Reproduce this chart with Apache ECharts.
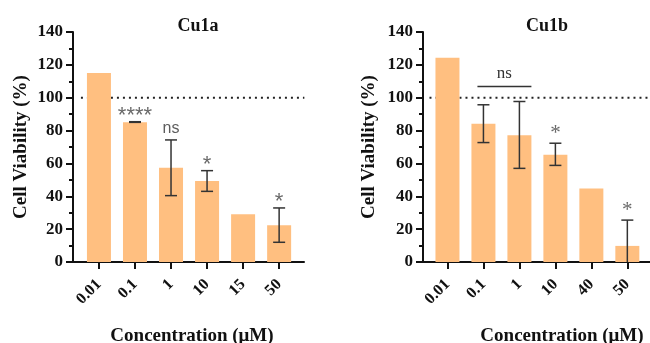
<!DOCTYPE html>
<html>
<head>
<meta charset="utf-8">
<script src="https://cdn.jsdelivr.net/npm/echarts@6/dist/echarts.min.js"></script>
<style>
  html, body { margin: 0; padding: 0; background: #fff; }
  #chart { width: 650px; height: 343px; }
</style>
</head>
<body>
<div id="chart"></div>
<script>
// Cell viability (%) per concentration, two complexes.
const catsA = ["0.01", "0.1", "1", "10", "15", "50"];
const meanA = [115, 85, 57.4, 49.3, 29, 22.3];
const errLoA = [null, 85, 40.4, 43, null, 12];
const errHiA = [null, 85.4, 74.3, 55.6, null, 32.9];
const sigA = ["", "****", "ns", "*", "", "*"];

const catsB = ["0.01", "0.1", "1", "10", "40", "50"];
const meanB = [124.3, 84.1, 77.2, 65.3, 44.8, 9.8];
const errLoB = [null, 72.7, 57, 58.8, null, -6];
const errHiB = [null, 95.7, 97.7, 72.3, null, 25.5];
const sigB = ["", "", "", "*", "", "*"];
// bracket over 0.1 and 1 with "ns"
const bracketB = { from: 1, to: 2, y: 106.8, text: "ns" };

const yTicks = { min: 0, max: 140, interval: 20 };
const refLine = 100;

const SERIF = "'Liberation Serif', 'Times New Roman', serif";
const SANS = "'Liberation Sans', Arial, sans-serif";
const BAR = "#FFBF80";
const INK = "#111";

function xAxisFor(grid, cats, min, max) {
  const idx = cats.map((_, i) => i);
  return {
    gridIndex: grid, type: "value", min, max,
    splitLine: { show: false },
    axisLine: { onZero: false, lineStyle: { color: INK, width: 2 } },
    axisTick: { customValues: idx, length: 7, lineStyle: { color: INK, width: 2 } },
    axisLabel: {
      customValues: idx, rotate: 45, margin: 20,
      formatter: (v) => cats[Math.round(v)],
      fontFamily: SERIF, fontWeight: "bold", fontSize: 16, color: INK,
    },
  };
}

function yAxisFor(grid, nameGap) {
  return {
    gridIndex: grid, type: "value", ...yTicks,
    name: "Cell Viability (%)", nameLocation: "middle", nameGap,
    nameTextStyle: { fontFamily: SERIF, fontWeight: "bold", fontSize: 19, color: INK },
    splitLine: { show: false },
    axisLine: { show: true, onZero: false, lineStyle: { color: INK, width: 2 } },
    axisTick: { length: 7, lineStyle: { color: INK, width: 2 } },
    minorTick: { show: true, splitNumber: 2, length: 4, lineStyle: { color: INK, width: 2 } },
    axisLabel: { margin: 10, fontFamily: SERIF, fontWeight: "bold", fontSize: 17, color: INK },
  };
}

function errorSeries(ax, lo, hi) {
  const data = [];
  lo.forEach((l, i) => { if (l != null) data.push([i, l, hi[i]]); });
  return {
    type: "custom", xAxisIndex: ax, yAxisIndex: ax, z: 4, clip: true,
    data,
    renderItem(params, api) {
      const top = api.coord([api.value(0), api.value(2)]);
      const bot = api.coord([api.value(0), api.value(1)]);
      const w = 6;
      const st = { stroke: "#333", lineWidth: 1.5 };
      return {
        type: "group",
        children: [
          { type: "line", shape: { x1: top[0], y1: top[1], x2: bot[0], y2: bot[1] }, style: st },
          { type: "line", shape: { x1: top[0] - w, y1: top[1], x2: top[0] + w, y2: top[1] }, style: st },
          { type: "line", shape: { x1: bot[0] - w, y1: bot[1], x2: bot[0] + w, y2: bot[1] }, style: st },
        ],
      };
    },
  };
}

function sigSeries(ax, sig, hi, font) {
  const data = [];
  sig.forEach((s, i) => { if (s) data.push([i, hi[i], s]); });
  const serif = font === SERIF;
  return {
    type: "scatter", xAxisIndex: ax, yAxisIndex: ax, symbolSize: 0, z: 5,
    data,
    label: {
      show: true, position: "top", distance: 3,
      formatter: (p) => (p.data[2].startsWith("*") ? "{st|" + p.data[2] + "}" : p.data[2]),
      fontFamily: font, fontSize: serif ? 17 : 16, color: "#333",
      rich: { st: { fontFamily: font, fontSize: serif ? 21 : 22, color: "#444" } },
    },
    labelLayout: (p) => (String(p.text).includes("*") ? { dy: serif ? 4 : 8 } : {}),
  };
}

function chartSeries(ax, cats, mean, lo, hi, sig, font) {
  return [
    {
      type: "line", xAxisIndex: ax, yAxisIndex: ax, z: 1, symbol: "none", silent: true,
      data: [[-0.5, refLine], [cats.length - 1 + 0.7, refLine]],
      lineStyle: { color: "#222", width: 2, type: [2, 4] },
    },
    {
      type: "bar", xAxisIndex: ax, yAxisIndex: ax, z: 2, barWidth: 24,
      itemStyle: { color: BAR },
      data: mean.map((v, i) => [i, v]),
    },
    errorSeries(ax, lo, hi),
    sigSeries(ax, sig, hi, font),
  ];
}

const chart = echarts.init(document.getElementById("chart"), null, { renderer: "canvas" });
chart.setOption({
  animation: false,
  title: [
    { text: "Cu1a", left: 193, top: 12, textAlign: "center",
      textStyle: { fontFamily: SERIF, fontWeight: "bold", fontSize: 18, color: INK } },
    { text: "Cu1b", left: 542, top: 12, textAlign: "center",
      textStyle: { fontFamily: SERIF, fontWeight: "bold", fontSize: 18, color: INK } },
    { text: "Concentration (\u03bcM)", left: 187, top: 322, textAlign: "center",
      textStyle: { fontFamily: SERIF, fontWeight: "bold", fontSize: 19, color: INK } },
    { text: "Concentration (\u03bcM)", left: 557, top: 322, textAlign: "center",
      textStyle: { fontFamily: SERIF, fontWeight: "bold", fontSize: 19, color: INK } },
  ],
  grid: [
    { left: 73, top: 32, width: 231, height: 230 },
    { left: 423, top: 32, width: 227, height: 230 },
  ],
  xAxis: [xAxisFor(0, catsA, -0.72, 5.69), xAxisFor(1, catsB, -0.68, 5.63)],
  yAxis: [yAxisFor(0, 42), yAxisFor(1, 44)],
  series: [
    ...chartSeries(0, catsA, meanA, errLoA, errHiA, sigA, SANS),
    ...chartSeries(1, catsB, meanB, errLoB, errHiB, sigB, SERIF),
    {
      type: "custom", xAxisIndex: 1, yAxisIndex: 1, z: 5,
      data: [[bracketB.from, bracketB.to, bracketB.y]],
      renderItem(params, api) {
        const a = api.coord([api.value(0), api.value(2)]);
        const b = api.coord([api.value(1), api.value(2)]);
        const x1 = a[0] - 6, x2 = b[0] + 12;
        return {
          type: "group",
          children: [
            { type: "line", shape: { x1, y1: a[1], x2, y2: a[1] }, style: { stroke: "#333", lineWidth: 1.5 } },
            { type: "text", x: (x1 + x2) / 2, y: a[1] - 5,
              style: { text: bracketB.text, align: "center", verticalAlign: "bottom",
                       font: "17px " + SERIF, fill: "#333" } },
          ],
        };
      },
    },
  ],
});
</script>
</body>
</html>
